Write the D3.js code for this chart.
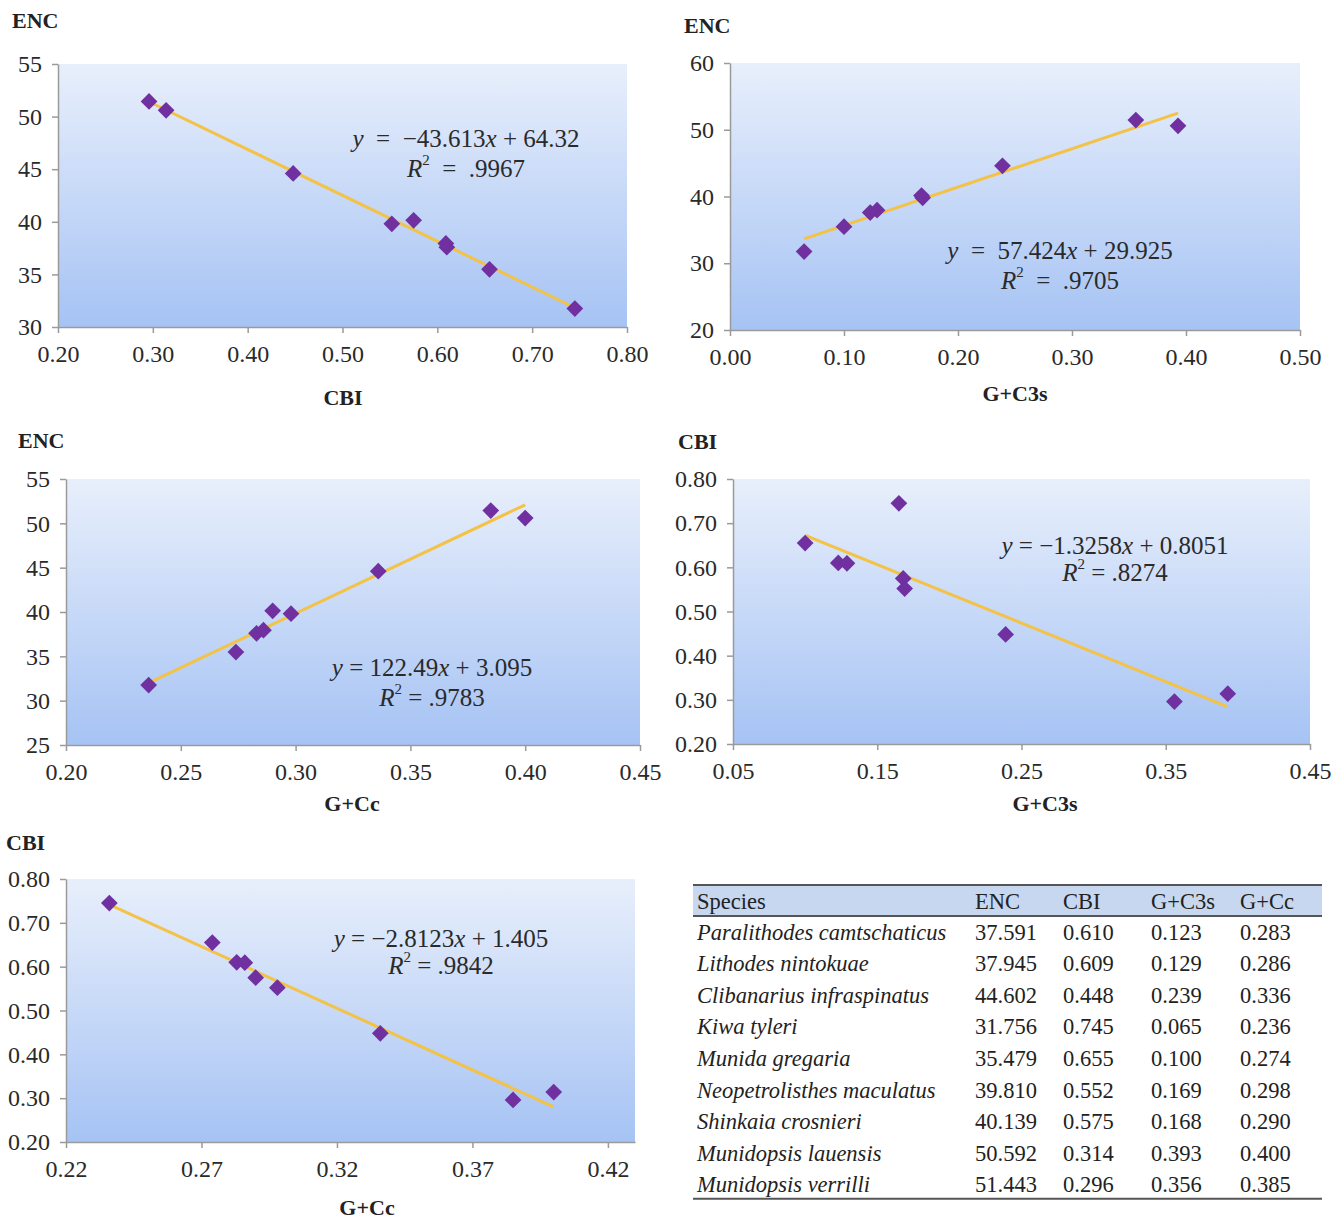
<!DOCTYPE html>
<html>
<head>
<meta charset="utf-8">
<script src="https://cdn.jsdelivr.net/npm/d3@7"></script>
<style>
  body { margin: 0; background: #fff; }
  svg { display: block; }
</style>
</head>
<body>
<div id="container"></div>
<script>
// table values
let species = ["Paralithodes camtschaticus", "Lithodes nintokuae", "Clibanarius infraspinatus",
  "Kiwa tyleri", "Munida gregaria", "Neopetrolisthes maculatus", "Shinkaia crosnieri",
  "Munidopsis lauensis", "Munidopsis verrilli"];
let enc  = [37.591, 37.945, 44.602, 31.756, 35.479, 39.810, 40.139, 50.592, 51.443];
let cbi  = [0.610, 0.609, 0.448, 0.745, 0.655, 0.552, 0.575, 0.314, 0.296];
let gc3s = [0.123, 0.129, 0.239, 0.065, 0.100, 0.169, 0.168, 0.393, 0.356];
let gcc  = [0.283, 0.286, 0.336, 0.236, 0.274, 0.298, 0.290, 0.400, 0.385];
let tableHeader = ["Species", "ENC", "CBI", "G+C3s", "G+Cc"];

// the CBI vs G+C3s panel plots Kiwa tyleri at about 0.165, not 0.065
let gc3sInCbiPanel = [0.123, 0.129, 0.239, 0.165, 0.100, 0.169, 0.168, 0.393, 0.356];

// trend lines, one per panel
let fitSlope     = [-43.613, 57.424, 122.49, -1.3258, -2.8123];
let fitIntercept = [64.32, 29.925, 3.095, 0.8051, 1.405];
let fitSlopeText = ["\u221243.613", "57.424", "122.49", "\u22121.3258", "\u22122.8123"];
let fitInterText = ["64.32", "29.925", "3.095", "0.8051", "1.405"];
let fitR2        = [".9967", ".9705", ".9783", ".8274", ".9842"];

let width = 1344;
let height = 1219;
let serif = "'Liberation Serif', 'Times New Roman', serif";
let sp = "\u00a0";

const svg = d3.select("#container").append("svg")
  .attr("width", width)
  .attr("height", height)
  .style("font-family", serif);

const grad = svg.append("defs").append("linearGradient")
  .attr("id", "bg")
  .attr("x1", 0).attr("y1", 0).attr("x2", 0).attr("y2", 1);
grad.append("stop").attr("offset", "0%").attr("stop-color", "#e8effb");
grad.append("stop").attr("offset", "100%").attr("stop-color", "#a6c3f4");

let panels = [
  {xs: cbi, ys: enc, xDom: [0.2, 0.8], xPx: [58, 627], yDom: [30, 55], yPx: [327, 64],
   xTicks: d3.range(0.2, 0.801, 0.1), yTicks: d3.range(30, 55.1, 5), xFmt: ".2f", yFmt: "d",
   yTitle: "ENC", yTitlePos: [12, 20], xTitle: "CBI", xTitlePos: [343, 397],
   eqPos: [466, 138, 168], eqGap: 2},
  {xs: gc3s, ys: enc, xDom: [0, 0.5], xPx: [730, 1300], yDom: [20, 60], yPx: [330, 63],
   xTicks: d3.range(0, 0.501, 0.1), yTicks: d3.range(20, 60.1, 10), xFmt: ".2f", yFmt: "d",
   yTitle: "ENC", yTitlePos: [684, 25], xTitle: "G+C3s", xTitlePos: [1015, 393],
   eqPos: [1060, 250, 280], eqGap: 2},
  {xs: gcc, ys: enc, xDom: [0.2, 0.45], xPx: [66, 640], yDom: [25, 55], yPx: [745, 479],
   xTicks: d3.range(0.2, 0.451, 0.05), yTicks: d3.range(25, 55.1, 5), xFmt: ".2f", yFmt: "d",
   yTitle: "ENC", yTitlePos: [18, 440], xTitle: "G+Cc", xTitlePos: [352, 803],
   eqPos: [432, 667, 697], eqGap: 1},
  {xs: gc3sInCbiPanel, ys: cbi, xDom: [0.05, 0.45], xPx: [733, 1310], yDom: [0.2, 0.8], yPx: [744, 479],
   xTicks: d3.range(0.05, 0.451, 0.1), yTicks: d3.range(0.2, 0.801, 0.1), xFmt: ".2f", yFmt: ".2f",
   yTitle: "CBI", yTitlePos: [678, 441], xTitle: "G+C3s", xTitlePos: [1045, 803],
   eqPos: [1115, 545, 572], eqGap: 1},
  {xs: gcc, ys: cbi, xDom: [0.22, 0.43], xPx: [66, 635], yDom: [0.2, 0.8], yPx: [1142, 879],
   xTicks: d3.range(0.22, 0.421, 0.05), yTicks: d3.range(0.2, 0.801, 0.1), xFmt: ".2f", yFmt: ".2f",
   yTitle: "CBI", yTitlePos: [6, 842], xTitle: "G+Cc", xTitlePos: [367, 1207],
   eqPos: [441, 938, 965], eqGap: 1}
];

panels.forEach(function(p, i) {
  let x = d3.scaleLinear().domain(p.xDom).range(p.xPx);
  let y = d3.scaleLinear().domain(p.yDom).range(p.yPx);
  let g = svg.append("g");

  g.append("rect")
    .attr("x", p.xPx[0]).attr("y", p.yPx[1])
    .attr("width", p.xPx[1] - p.xPx[0])
    .attr("height", p.yPx[0] - p.yPx[1])
    .attr("fill", "url(#bg)");

  let xAxis = g.append("g")
    .attr("transform", `translate(0,${p.yPx[0]})`)
    .call(d3.axisBottom(x).tickValues(p.xTicks).tickFormat(d3.format(p.xFmt))
      .tickSize(6).tickPadding(12).tickSizeOuter(0));
  let yAxis = g.append("g")
    .attr("transform", `translate(${p.xPx[0]},0)`)
    .call(d3.axisLeft(y).tickValues(p.yTicks).tickFormat(d3.format(p.yFmt))
      .tickSize(6).tickPadding(10).tickSizeOuter(0));
  [xAxis, yAxis].forEach(function(a) {
    a.select(".domain").attr("stroke", "#9a9a9a").attr("stroke-width", 1.5);
    a.selectAll(".tick line").attr("stroke", "#9a9a9a").attr("stroke-width", 1.5);
    a.selectAll("text").attr("fill", "#2a2a2a").style("font-size", "24px").style("font-family", serif);
  });

  // trend line over the range of the plotted points
  let xMin = d3.min(p.xs), xMax = d3.max(p.xs);
  g.append("line")
    .attr("x1", x(xMin)).attr("y1", y(fitSlope[i] * xMin + fitIntercept[i]))
    .attr("x2", x(xMax)).attr("y2", y(fitSlope[i] * xMax + fitIntercept[i]))
    .attr("stroke", "#f3c247")
    .attr("stroke-width", 3);

  g.append("g")
    .selectAll("path")
    .data(p.xs.map((v, k) => [v, p.ys[k]]))
    .join("path")
    .attr("d", d3.symbol(d3.symbolSquare, 140))
    .attr("transform", d => `translate(${x(d[0])},${y(d[1])}) rotate(45)`)
    .attr("fill", "#7030a0");

  g.append("text")
    .attr("x", p.yTitlePos[0]).attr("y", p.yTitlePos[1])
    .attr("dominant-baseline", "central")
    .style("font-size", "22px").style("font-weight", "bold")
    .attr("fill", "#222")
    .text(p.yTitle);
  g.append("text")
    .attr("x", p.xTitlePos[0]).attr("y", p.xTitlePos[1])
    .attr("text-anchor", "middle")
    .attr("dominant-baseline", "central")
    .style("font-size", "22px").style("font-weight", "bold")
    .attr("fill", "#222")
    .text(p.xTitle);

  // equation and R squared
  let gap = sp.repeat(p.eqGap);
  let eq = g.append("text")
    .attr("x", p.eqPos[0]).attr("y", p.eqPos[1])
    .attr("text-anchor", "middle")
    .attr("dominant-baseline", "central")
    .style("font-size", "25px")
    .attr("fill", "#2a2a2a");
  eq.append("tspan").style("font-style", "italic").text("y");
  eq.append("tspan").text(gap + "=" + gap + fitSlopeText[i]);
  eq.append("tspan").style("font-style", "italic").text("x");
  eq.append("tspan").text(sp + "+" + sp + fitInterText[i]);

  let r2 = g.append("text")
    .attr("x", p.eqPos[0]).attr("y", p.eqPos[2])
    .attr("text-anchor", "middle")
    .attr("dominant-baseline", "central")
    .style("font-size", "25px")
    .attr("fill", "#2a2a2a");
  r2.append("tspan").style("font-style", "italic").text("R");
  r2.append("tspan").attr("dy", -8).style("font-size", "15px").text("2");
  r2.append("tspan").attr("dy", 8).text(gap + "=" + gap + fitR2[i]);
});

// data table
let colX = [697, 975, 1063, 1151, 1240];
let tableLeft = 693, tableRight = 1322;
let headTop = 885, headBottom = 916, rowStep = 31.6, firstRow = 932;

svg.append("rect")
  .attr("x", tableLeft).attr("y", headTop)
  .attr("width", tableRight - tableLeft).attr("height", headBottom - headTop)
  .attr("fill", "#c6d7ef");
svg.append("line")
  .attr("x1", tableLeft).attr("x2", tableRight).attr("y1", headTop).attr("y2", headTop)
  .attr("stroke", "#555").attr("stroke-width", 2);
svg.append("line")
  .attr("x1", tableLeft).attr("x2", tableRight).attr("y1", headBottom).attr("y2", headBottom)
  .attr("stroke", "#555").attr("stroke-width", 2);

svg.append("g")
  .selectAll("text")
  .data(tableHeader)
  .join("text")
  .attr("x", (d, k) => colX[k])
  .attr("y", (headTop + headBottom) / 2 + 1)
  .attr("dominant-baseline", "central")
  .style("font-size", "22.5px")
  .attr("fill", "#222")
  .text(d => d);

let rows = species.map((s, k) => [s, enc[k].toFixed(3), cbi[k].toFixed(3), gc3s[k].toFixed(3), gcc[k].toFixed(3)]);

svg.append("g")
  .selectAll("g")
  .data(rows)
  .join("g")
  .attr("transform", (d, k) => `translate(0,${firstRow + k * rowStep})`)
  .selectAll("text")
  .data(d => d)
  .join("text")
  .attr("x", (d, k) => colX[k])
  .attr("dominant-baseline", "central")
  .style("font-size", "22.5px")
  .style("font-style", (d, k) => k === 0 ? "italic" : "normal")
  .attr("fill", "#222")
  .text(d => d);

let tableBottom = firstRow + (rows.length - 1) * rowStep + 14;
svg.append("line")
  .attr("x1", tableLeft).attr("x2", tableRight).attr("y1", tableBottom).attr("y2", tableBottom)
  .attr("stroke", "#555").attr("stroke-width", 2);
</script>
</body>
</html>
